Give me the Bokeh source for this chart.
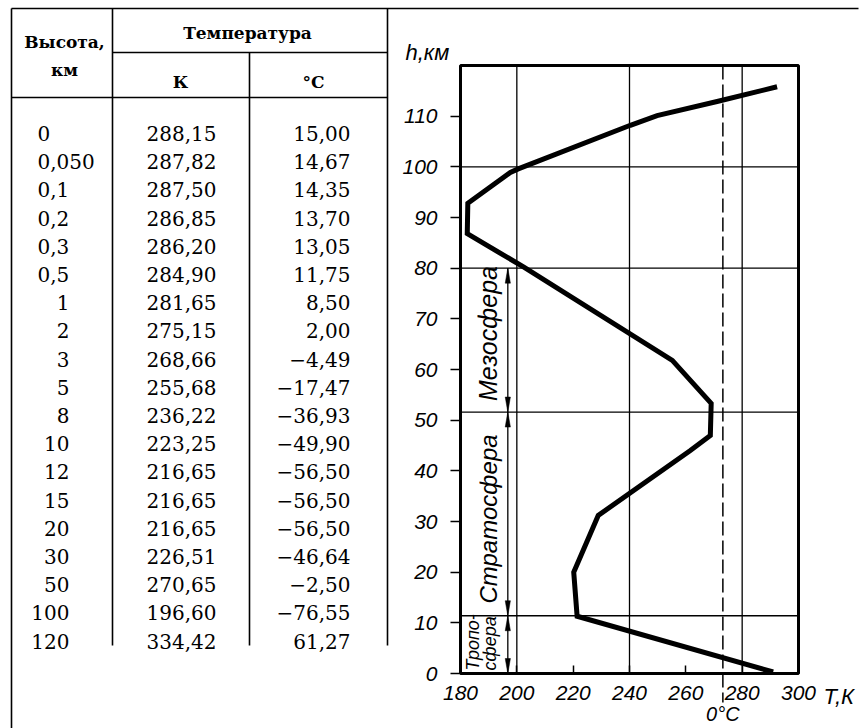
from math import pi
from bokeh.plotting import figure
from bokeh.models import LinearAxis, FixedTicker, Range1d
from bokeh.core.properties import value
from bokeh.embed import file_html
from bokeh.resources import INLINE

# ---------------- table data ----------------
height_labels = ["0", "0,050", "0,1", "0,2", "0,3", "0,5", "1", "2", "3", "5",
                 "8", "10", "12", "15", "20", "30", "50", "100", "120"]
temp_K_labels = ["288,15", "287,82", "287,50", "286,85", "286,20", "284,90", "281,65",
                 "275,15", "268,66", "255,68", "236,22", "223,25", "216,65", "216,65",
                 "216,65", "226,51", "270,65", "196,60", "334,42"]
temp_C_labels = ["15,00", "14,67", "14,35", "13,70", "13,05", "11,75", "8,50", "2,00",
                 "\u22124,49", "\u221217,47", "\u221236,93", "\u221249,90", "\u221256,50",
                 "\u221256,50", "\u221256,50", "\u221246,64", "\u22122,50", "\u221276,55",
                 "61,27"]

# ---------------- chart data ----------------
profile_T = [291.0, 221.4, 220.2, 228.9, 261.6, 268.7, 269.0, 255.2, 202.5,
             182.4, 182.6, 197.7, 200.5, 240.3, 249.8, 271.1, 292.4]
profile_h = [0.3, 11.3, 20.0, 31.2, 44.0, 47.0, 53.3, 61.8, 80.2,
             86.8, 92.8, 98.9, 99.6, 108.2, 110.1, 112.9, 115.8]
x_ticks = [180, 200, 220, 240, 260, 280, 300]
y_ticks = [0, 10, 20, 30, 40, 50, 60, 70, 80, 90, 100, 110]
grid_T = [200, 240, 280]
zero_celsius_K = 273.15
boundary_h = [11.4, 51.6, 80, 100]
layer_bounds = [0, 11.4, 51.6, 80]
T_min, T_max = 180, 300
h_min, h_max = 0, 120

W, H = 863, 728
# plot box position on the page (pixels)
BOX_L, BOX_R, BOX_T, BOX_B = 460, 798, 65, 673
px_per_K = (BOX_R - BOX_L) / (T_max - T_min)
px_per_km = (BOX_B - BOX_T) / (h_max - h_min)

x_range = Range1d(T_min - BOX_L / px_per_K, T_max + (W - BOX_R) / px_per_K)
y_range = Range1d(h_min - (H - BOX_B) / px_per_km, h_max + BOX_T / px_per_km)

p = figure(width=W, height=H, x_range=x_range, y_range=y_range,
           x_axis_location=None, y_axis_location=None, min_border=0,
           toolbar_location=None, output_backend="svg")
p.grid.visible = False
p.outline_line_color = None
p.background_fill_color = "white"
p.border_fill_color = "white"
# page-pixel ranges for the table layout
p.extra_x_ranges = {"px": Range1d(0, W)}
p.extra_y_ranges = {"py": Range1d(H, 0)}


def K_of_px(px):
    return T_min + (px - BOX_L) / px_per_K


def km_of_py(py):
    return h_min + (BOX_B - py) / px_per_km


# ---------------- table ----------------
serif = value("DejaVu Serif")
row_y = [133 + 28.2 * i for i in range(len(height_labels))]
tkw = dict(x_range_name="px", y_range_name="py", text_baseline="middle",
           text_font=serif, text_font_size="20px", text_color="black")

left_idx = [i for i, s in enumerate(height_labels) if s.startswith("0")]
right_idx = [i for i, s in enumerate(height_labels) if not s.startswith("0")]
p.text(x=[37] * len(left_idx), y=[row_y[i] for i in left_idx],
       text=[height_labels[i] for i in left_idx], text_align="left", **tkw)
p.text(x=[69] * len(right_idx), y=[row_y[i] for i in right_idx],
       text=[height_labels[i] for i in right_idx], text_align="right", **tkw)
p.text(x=[216] * len(temp_K_labels), y=row_y, text=temp_K_labels, text_align="right", **tkw)
p.text(x=[350] * len(temp_C_labels), y=row_y, text=temp_C_labels, text_align="right", **tkw)

p.text(x=[64, 64, 247, 180, 313], y=[41, 69, 32, 81, 81],
       text=["Высота,", "км", "Температура", "К", "°C"],
       text_align="center", text_baseline="middle", text_font=serif,
       text_font_style="bold", text_font_size="17px", text_color="black",
       x_range_name="px", y_range_name="py")

p.segment(x0=[11, 11, 112, 249, 387, 112, 11],
          y0=[8, 8, 8, 52, 8, 52, 97],
          x1=[858, 11, 112, 249, 387, 387, 387],
          y1=[8, H, 645, 645, 645, 52, 97],
          line_color="black", line_width=1.6, x_range_name="px", y_range_name="py")

# ---------------- chart ----------------
# grid lines
p.segment(x0=grid_T, y0=[h_min] * len(grid_T), x1=grid_T, y1=[h_max] * len(grid_T),
          line_color="black", line_width=1.3)
p.segment(x0=[T_min] * len(boundary_h), y0=boundary_h, x1=[T_max] * len(boundary_h),
          y1=boundary_h, line_color="black", line_width=1.3)
# 0 °C dashed line, running below the axis down to its label
p.segment(x0=[zero_celsius_K], y0=[h_max], x1=[zero_celsius_K], y1=[km_of_py(702)],
          line_color="black", line_width=1.5, line_dash="14 5")

# temperature profile
p.line(profile_T, profile_h, line_color="black", line_width=5, line_join="miter")

# plot box
p.quad(left=[T_min], right=[T_max], bottom=[h_min], top=[h_max],
       fill_color=None, line_color="black", line_width=3)

# layer arrows
ax_T = 196.8
hw = 2.6 / px_per_K
hl = 15 / px_per_km
for lo, hi in zip(layer_bounds[:-1], layer_bounds[1:]):
    p.segment(x0=[ax_T], y0=[lo], x1=[ax_T], y1=[hi], line_color="black", line_width=1.3)
    p.patches(xs=[[ax_T, ax_T - hw, ax_T + hw], [ax_T, ax_T - hw, ax_T + hw]],
              ys=[[hi, hi - hl, hi - hl], [lo, lo + hl, lo + hl]],
              fill_color="black", line_color="black", line_width=0.5)

sans = value("Liberation Sans")
lkw = dict(angle=pi / 2, text_baseline="middle", text_font=sans,
           text_font_style="italic", text_color="black")
p.text(x=[189.9], y=[67.1], text=["Мезосфера"], text_align="center",
       text_font_size="25px", **lkw)
p.text(x=[189.9], y=[30.5], text=["Стратосфера"], text_align="center",
       text_font_size="24px", **lkw)
p.text(x=[184.4], y=[0.6], text=["Тропо-"], text_align="left",
       text_font_size="18px", **lkw)
p.text(x=[190.6], y=[0.6], text=["сфера"], text_align="left",
       text_font_size="18px", **lkw)

# axis names
akw = dict(text_font=sans, text_font_style="italic", text_color="black")
p.text(x=[K_of_px(405)], y=[km_of_py(52)], text=["h,км"], text_align="left",
       text_baseline="alphabetic", text_font_size="22px", **akw)
p.text(x=[K_of_px(823)], y=[km_of_py(696)], text=["T,К"], text_align="left",
       text_baseline="middle", text_font_size="22px", **akw)
p.text(x=[zero_celsius_K], y=[km_of_py(713)], text=["0°C"], text_align="center",
       text_baseline="middle", text_font_size="20px", **akw)

# axes, fixed on the plot box edges
yax = LinearAxis(fixed_location=T_min, ticker=FixedTicker(ticks=y_ticks), bounds=(h_min, h_max))
xax = LinearAxis(fixed_location=h_min, ticker=FixedTicker(ticks=x_ticks), bounds=(T_min, T_max))
for ax in (xax, yax):
    ax.axis_line_color = None
    ax.minor_tick_line_color = None
    ax.major_tick_line_color = "black"
    ax.major_tick_line_width = 1.5
    ax.major_label_text_font = "Liberation Sans"
    ax.major_label_text_font_style = "italic"
    ax.major_label_text_font_size = "21px"
    ax.major_label_text_color = "black"
xax.major_tick_in = 8
xax.major_tick_out = 0
xax.major_label_standoff = 12
yax.major_tick_in = 0
yax.major_tick_out = 10
yax.major_label_standoff = 13
p.add_layout(yax, "left")
p.add_layout(xax, "below")

open("out.html", "w").write(file_html(p, INLINE))
